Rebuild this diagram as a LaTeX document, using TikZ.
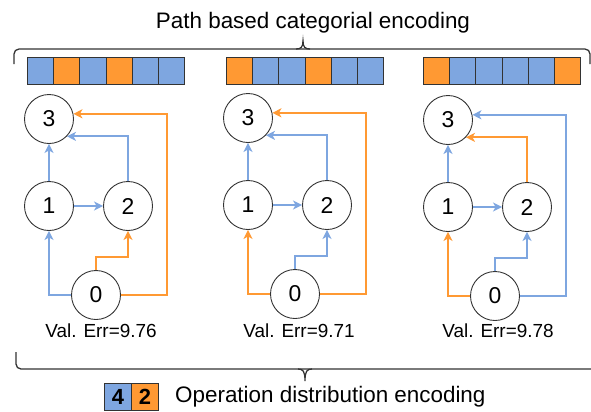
\documentclass[tikz,border=0pt]{standalone}
\usepackage{fontspec}
\setmainfont{Liberation Sans}
\usetikzlibrary{arrows.meta,calc}
\definecolor{opblue}{RGB}{126,166,224}
\definecolor{oporange}{RGB}{255,153,51}
\definecolor{inkgray}{RGB}{51,51,51}
\tikzset{
  opnode/.style={circle,draw=inkgray,line width=0.9bp,fill=white,minimum size=49bp,
    inner sep=0pt,font=\fontsize{23}{26}\selectfont},
  opedge/.style={line width=2.1bp,-{Stealth[length=9bp,width=9bp,inset=2.5bp]}},
  cell/.style={draw=inkgray,line width=0.9bp,minimum width=26.2bp,minimum height=27bp,
    inner sep=0pt,anchor=north west},
  legcell/.style={cell,font=\fontsize{22}{24}\selectfont\bfseries},
  brace/.style={draw=inkgray,line width=1.3bp},
  label/.style={inner sep=0pt,font=\fontsize{19}{22}\selectfont},
  headline/.style={inner sep=0pt,font=\fontsize{22.5}{26}\selectfont},
}
% One cell graph: #1 name prefix, #2/#3 shift,
% colours of the edges 0->1, 0->2, 0->3 and 2->3
\newcommand{\archpanel}[7]{%
  \begin{scope}[shift={(#2,#3)}]
    \node[opnode] (#1n3) at (49,119) {3};
    \node[opnode] (#1n1) at (49,206) {1};
    \node[opnode] (#1n2) at (128,206) {2};
    \node[opnode] (#1n0) at (96,295) {0};
    \coordinate (#1r) at (167,0);
  \end{scope}
  \draw[opedge,color=#4] (#1n0.west) -| (#1n1.south);
  \draw[opedge,color=#5] (#1n0.north) -- ++(0,-13.5) -| (#1n2.south);
  \draw[opedge,color=#6] (#1n0.east) -| (#1r |- #1n3.12) -- (#1n3.12);
  \draw[opedge,color=#7] (#1n2.north) |- (#1n3.-44);
  \draw[opedge,color=opblue] (#1n1) -- (#1n2);
  \draw[opedge,color=opblue] (#1n1) -- (#1n3);
}
\begin{document}
\begin{tikzpicture}[x=1bp,y=-1bp]
  \useasboundingbox (0,0) rectangle (591,411);

  % title and upper brace
  \node[headline] (title) at (313,23) {Path based categorial encoding};
  \draw[brace,rounded corners=5bp] (14,64) -- (14,49) -- (590,49) -- (590,64);
  \draw[brace] (296,49) .. controls (301,49) and (303,47) .. (303,41)
               .. controls (303,47) and (305,49) .. (310,49);

  % path encodings, one cell per edge
  \foreach \bx/\tag/\cols in {
      27/a/{opblue,oporange,opblue,oporange,opblue,opblue},
      226/b/{oporange,opblue,opblue,oporange,opblue,opblue},
      423/c/{oporange,opblue,opblue,opblue,opblue,oporange}}{
    \foreach \c [count=\i from 0] in \cols {
      \node[cell,fill=\c] (\tag cell\i) at (\bx+\i*26.2,57) {};
    }
  }

  % the three cells
  \archpanel{a}{0}{0}{opblue}{oporange}{oporange}{opblue}
  \archpanel{b}{199}{-1}{oporange}{opblue}{oporange}{opblue}
  \archpanel{c}{399}{1}{oporange}{opblue}{opblue}{oporange}

  \node[label] (erra) at (101,331) {Val. Err=9.76};
  \node[label] (errb) at (299,331) {Val. Err=9.71};
  \node[label] (errc) at (498,331) {Val. Err=9.78};

  % lower brace and legend
  \draw[brace,rounded corners=5bp] (16,352) -- (16,369) -- (600,369);
  \draw[brace] (298,369) .. controls (303,369) and (305,371) .. (305,381)
               .. controls (305,371) and (307,369) .. (312,369);
  \node[legcell,fill=opblue,minimum width=27bp] (legfour) at (104,383) {4};
  \node[legcell,fill=oporange,minimum width=27bp] (legtwo) at (131,383) {2};
  \node[headline,anchor=west] (legtext) at (175,397) {Operation distribution encoding};
\end{tikzpicture}
\end{document}
